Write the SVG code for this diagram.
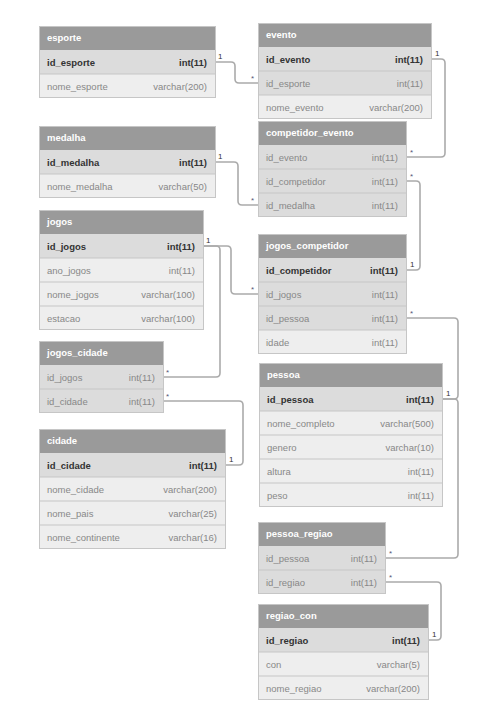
<svg xmlns="http://www.w3.org/2000/svg" width="477" height="717" viewBox="0 0 477 717">
<style>
.bg{fill:#ffffff}
.hdr{fill:#9a9a9a}
.k{fill:#dcdcdc}
.n{fill:#eeeeee}
.box{fill:none;stroke:#c6c6c6;stroke-width:1}
.sep{stroke:#c6c6c6;stroke-width:1}
text{font-family:"Liberation Sans",Arial,sans-serif;font-size:9.5px}
.ht{fill:#ffffff;font-weight:bold}
.pk{fill:#333333;font-weight:bold}
.f{fill:#888888}
.r{text-anchor:end}
.c{fill:none;stroke:#ababab;stroke-width:1.6}
.lb{fill:#333333;font-size:8px}
.st{fill:#555577;font-size:8px}
</style>
<rect class="bg" x="0" y="0" width="477" height="717"/>
<g id="connectors">
<path class="c" d="M216,62 H231 Q235,62 235,66 V79 Q235,83 239,83 H258"/>
<path class="c" d="M432,59 H441 Q445,59 445,63 V153 Q445,157 441,157 H407"/>
<path class="c" d="M216,162 H234 Q238,162 238,166 V201 Q238,205 242,205 H258"/>
<path class="c" d="M407,270 H416 Q420,270 420,266 V185 Q420,181 416,181 H407"/>
<path class="c" d="M204,246 H227 Q231,246 231,250 V290 Q231,294 235,294 H258"/>
<path class="c" d="M204,246 H216 Q220,246 220,250 V373 Q220,377 216,377 H164"/>
<path class="c" d="M226,465 H239 Q243,465 243,461 V405 Q243,401 239,401 H164"/>
<path class="c" d="M443,399 H454 Q458,399 458,395 V322 Q458,318 454,318 H407"/>
<path class="c" d="M443,399 H454 Q458,399 458,403 V554 Q458,558 454,558 H386"/>
<path class="c" d="M429,640 H437 Q441,640 441,636 V586 Q441,582 437,582 H386"/>
<text class="lb" x="218" y="59">1</text>
<text class="st" x="251" y="81">*</text>
<text class="lb" x="435" y="56">1</text>
<text class="st" x="410" y="155">*</text>
<text class="lb" x="218" y="159">1</text>
<text class="st" x="251" y="203">*</text>
<text class="lb" x="410" y="267">1</text>
<text class="st" x="410" y="179">*</text>
<text class="lb" x="206" y="243">1</text>
<text class="st" x="251" y="292">*</text>
<text class="st" x="166" y="375">*</text>
<text class="lb" x="229" y="462">1</text>
<text class="st" x="166" y="399">*</text>
<text class="lb" x="446" y="396">1</text>
<text class="st" x="410" y="316">*</text>
<text class="st" x="389" y="556">*</text>
<text class="lb" x="432" y="637">1</text>
<text class="st" x="389" y="580">*</text>
</g>
<g id="esporte">
<rect class="hdr" x="39" y="26" width="177" height="24"/>
<rect class="k" x="39" y="50" width="177" height="24"/>
<rect class="n" x="39" y="74" width="177" height="24"/>
<line class="sep" x1="39" y1="74" x2="216" y2="74"/>
<rect class="box" x="39.5" y="26.5" width="176" height="71"/>
<text class="ht" x="47" y="41">esporte</text>
<text class="pk" x="47" y="65.5">id_esporte</text><text class="pk r" x="207" y="65.5">int(11)</text>
<text class="f" x="47" y="89.5">nome_esporte</text><text class="f r" x="207" y="89.5">varchar(200)</text>
</g>
<g id="evento">
<rect class="hdr" x="258" y="23" width="174" height="24"/>
<rect class="k" x="258" y="47" width="174" height="48"/>
<rect class="n" x="258" y="95" width="174" height="24"/>
<line class="sep" x1="258" y1="71" x2="432" y2="71"/>
<line class="sep" x1="258" y1="95" x2="432" y2="95"/>
<rect class="box" x="258.5" y="23.5" width="173" height="95"/>
<text class="ht" x="266" y="38">evento</text>
<text class="pk" x="266" y="62.5">id_evento</text><text class="pk r" x="423" y="62.5">int(11)</text>
<text class="f" x="266" y="86.5">id_esporte</text><text class="f r" x="423" y="86.5">int(11)</text>
<text class="f" x="266" y="110.5">nome_evento</text><text class="f r" x="423" y="110.5">varchar(200)</text>
</g>
<g id="competidor_evento">
<rect class="hdr" x="258" y="121" width="149" height="24"/>
<rect class="k" x="258" y="145" width="149" height="72"/>
<line class="sep" x1="258" y1="169" x2="407" y2="169"/>
<line class="sep" x1="258" y1="193" x2="407" y2="193"/>
<rect class="box" x="258.5" y="121.5" width="148" height="95"/>
<text class="ht" x="266" y="136">competidor_evento</text>
<text class="f" x="266" y="160.5">id_evento</text><text class="f r" x="398" y="160.5">int(11)</text>
<text class="f" x="266" y="184.5">id_competidor</text><text class="f r" x="398" y="184.5">int(11)</text>
<text class="f" x="266" y="208.5">id_medalha</text><text class="f r" x="398" y="208.5">int(11)</text>
</g>
<g id="medalha">
<rect class="hdr" x="39" y="126" width="177" height="24"/>
<rect class="k" x="39" y="150" width="177" height="24"/>
<rect class="n" x="39" y="174" width="177" height="24"/>
<line class="sep" x1="39" y1="174" x2="216" y2="174"/>
<rect class="box" x="39.5" y="126.5" width="176" height="71"/>
<text class="ht" x="47" y="141">medalha</text>
<text class="pk" x="47" y="165.5">id_medalha</text><text class="pk r" x="207" y="165.5">int(11)</text>
<text class="f" x="47" y="189.5">nome_medalha</text><text class="f r" x="207" y="189.5">varchar(50)</text>
</g>
<g id="jogos">
<rect class="hdr" x="39" y="210" width="165" height="24"/>
<rect class="k" x="39" y="234" width="165" height="24"/>
<rect class="n" x="39" y="258" width="165" height="72"/>
<line class="sep" x1="39" y1="258" x2="204" y2="258"/>
<line class="sep" x1="39" y1="282" x2="204" y2="282"/>
<line class="sep" x1="39" y1="306" x2="204" y2="306"/>
<rect class="box" x="39.5" y="210.5" width="164" height="119"/>
<text class="ht" x="47" y="225">jogos</text>
<text class="pk" x="47" y="249.5">id_jogos</text><text class="pk r" x="195" y="249.5">int(11)</text>
<text class="f" x="47" y="273.5">ano_jogos</text><text class="f r" x="195" y="273.5">int(11)</text>
<text class="f" x="47" y="297.5">nome_jogos</text><text class="f r" x="195" y="297.5">varchar(100)</text>
<text class="f" x="47" y="321.5">estacao</text><text class="f r" x="195" y="321.5">varchar(100)</text>
</g>
<g id="jogos_competidor">
<rect class="hdr" x="258" y="234" width="149" height="24"/>
<rect class="k" x="258" y="258" width="149" height="72"/>
<rect class="n" x="258" y="330" width="149" height="24"/>
<line class="sep" x1="258" y1="282" x2="407" y2="282"/>
<line class="sep" x1="258" y1="306" x2="407" y2="306"/>
<line class="sep" x1="258" y1="330" x2="407" y2="330"/>
<rect class="box" x="258.5" y="234.5" width="148" height="119"/>
<text class="ht" x="266" y="249">jogos_competidor</text>
<text class="pk" x="266" y="273.5">id_competidor</text><text class="pk r" x="398" y="273.5">int(11)</text>
<text class="f" x="266" y="297.5">id_jogos</text><text class="f r" x="398" y="297.5">int(11)</text>
<text class="f" x="266" y="321.5">id_pessoa</text><text class="f r" x="398" y="321.5">int(11)</text>
<text class="f" x="266" y="345.5">idade</text><text class="f r" x="398" y="345.5">int(11)</text>
</g>
<g id="jogos_cidade">
<rect class="hdr" x="39" y="341" width="125" height="24"/>
<rect class="k" x="39" y="365" width="125" height="48"/>
<line class="sep" x1="39" y1="389" x2="164" y2="389"/>
<rect class="box" x="39.5" y="341.5" width="124" height="71"/>
<text class="ht" x="47" y="356">jogos_cidade</text>
<text class="f" x="47" y="380.5">id_jogos</text><text class="f r" x="155" y="380.5">int(11)</text>
<text class="f" x="47" y="404.5">id_cidade</text><text class="f r" x="155" y="404.5">int(11)</text>
</g>
<g id="cidade">
<rect class="hdr" x="39" y="429" width="187" height="24"/>
<rect class="k" x="39" y="453" width="187" height="24"/>
<rect class="n" x="39" y="477" width="187" height="72"/>
<line class="sep" x1="39" y1="477" x2="226" y2="477"/>
<line class="sep" x1="39" y1="501" x2="226" y2="501"/>
<line class="sep" x1="39" y1="525" x2="226" y2="525"/>
<rect class="box" x="39.5" y="429.5" width="186" height="119"/>
<text class="ht" x="47" y="444">cidade</text>
<text class="pk" x="47" y="468.5">id_cidade</text><text class="pk r" x="217" y="468.5">int(11)</text>
<text class="f" x="47" y="492.5">nome_cidade</text><text class="f r" x="217" y="492.5">varchar(200)</text>
<text class="f" x="47" y="516.5">nome_pais</text><text class="f r" x="217" y="516.5">varchar(25)</text>
<text class="f" x="47" y="540.5">nome_continente</text><text class="f r" x="217" y="540.5">varchar(16)</text>
</g>
<g id="pessoa">
<rect class="hdr" x="259" y="363" width="184" height="24"/>
<rect class="k" x="259" y="387" width="184" height="24"/>
<rect class="n" x="259" y="411" width="184" height="96"/>
<line class="sep" x1="259" y1="411" x2="443" y2="411"/>
<line class="sep" x1="259" y1="435" x2="443" y2="435"/>
<line class="sep" x1="259" y1="459" x2="443" y2="459"/>
<line class="sep" x1="259" y1="483" x2="443" y2="483"/>
<rect class="box" x="259.5" y="363.5" width="183" height="143"/>
<text class="ht" x="267" y="378">pessoa</text>
<text class="pk" x="267" y="402.5">id_pessoa</text><text class="pk r" x="434" y="402.5">int(11)</text>
<text class="f" x="267" y="426.5">nome_completo</text><text class="f r" x="434" y="426.5">varchar(500)</text>
<text class="f" x="267" y="450.5">genero</text><text class="f r" x="434" y="450.5">varchar(10)</text>
<text class="f" x="267" y="474.5">altura</text><text class="f r" x="434" y="474.5">int(11)</text>
<text class="f" x="267" y="498.5">peso</text><text class="f r" x="434" y="498.5">int(11)</text>
</g>
<g id="pessoa_regiao">
<rect class="hdr" x="258" y="522" width="128" height="24"/>
<rect class="k" x="258" y="546" width="128" height="48"/>
<line class="sep" x1="258" y1="570" x2="386" y2="570"/>
<rect class="box" x="258.5" y="522.5" width="127" height="71"/>
<text class="ht" x="266" y="537">pessoa_regiao</text>
<text class="f" x="266" y="561.5">id_pessoa</text><text class="f r" x="377" y="561.5">int(11)</text>
<text class="f" x="266" y="585.5">id_regiao</text><text class="f r" x="377" y="585.5">int(11)</text>
</g>
<g id="regiao_con">
<rect class="hdr" x="258" y="604" width="171" height="24"/>
<rect class="k" x="258" y="628" width="171" height="24"/>
<rect class="n" x="258" y="652" width="171" height="48"/>
<line class="sep" x1="258" y1="652" x2="429" y2="652"/>
<line class="sep" x1="258" y1="676" x2="429" y2="676"/>
<rect class="box" x="258.5" y="604.5" width="170" height="95"/>
<text class="ht" x="266" y="619">regiao_con</text>
<text class="pk" x="266" y="643.5">id_regiao</text><text class="pk r" x="420" y="643.5">int(11)</text>
<text class="f" x="266" y="667.5">con</text><text class="f r" x="420" y="667.5">varchar(5)</text>
<text class="f" x="266" y="691.5">nome_regiao</text><text class="f r" x="420" y="691.5">varchar(200)</text>
</g>
</svg>
